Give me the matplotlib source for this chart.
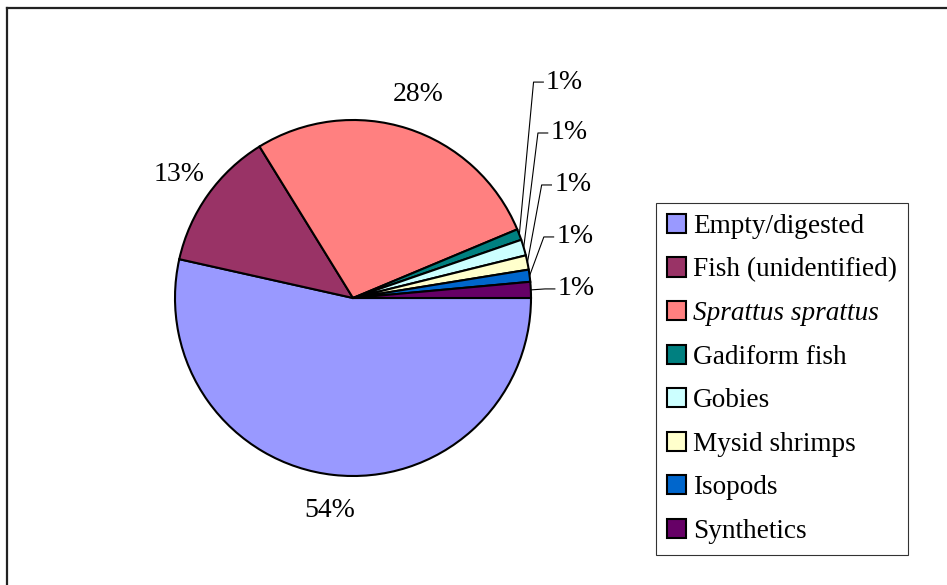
import matplotlib.pyplot as plt
import numpy as np

categories = ["Empty/digested", "Fish (unidentified)", "Sprattus sprattus", "Gadiform fish",
              "Gobies", "Mysid shrimps", "Isopods", "Synthetics"]
shares = [53.5, 12.7, 27.5, 1.0, 1.45, 1.3, 1.1, 1.45]
colors = ["#9999FF", "#993366", "#FF8080", "#008080", "#CCFFFF", "#FFFFCC", "#0066CC", "#660066"]

plt.rcParams['font.family'] = ['Liberation Serif', 'DejaVu Serif']

W, H = 947, 585
cx, cy, R = 353, 298, 178  # pie centre / radius in pixels

fig = plt.figure(figsize=(W / 100, H / 100), dpi=100)
ax = fig.add_axes([0, 0, 1, 1])

wedges, _ = ax.pie(shares, colors=colors, startangle=0, counterclock=False,
                   wedgeprops=dict(edgecolor='black', linewidth=1.5))
ax.set_xlim(-cx / R, (W - cx) / R)
ax.set_ylim(-(H - cy) / R, cy / R)
ax.set_aspect('auto')
ax.axis('off')

total = sum(shares)
fs = 20

# big slices: label outside the pie
for i in range(3):
    w = wedges[i]
    mid = np.deg2rad((w.theta1 + w.theta2) / 2)
    r = 1.2
    ax.text(r * np.cos(mid), r * np.sin(mid), f"{shares[i] / total * 100:.0f}%",
            ha='center', va='center', fontsize=fs)

# small slices: stacked labels with leader lines
label_y = [1.213, 0.927, 0.635, 0.343, 0.051]
for k, i in enumerate(range(3, 8)):
    w = wedges[i]
    mid = np.deg2rad((w.theta1 + w.theta2) / 2)
    ex, ey = np.cos(mid), np.sin(mid)
    ly = label_y[k]
    elbow = ex + 0.08
    ax.plot([ex, elbow, elbow + 0.055], [ey, ly, ly], color='black', lw=0.8)
    ax.text(elbow + 0.07, ly, f"{shares[i] / total * 100:.0f}%",
            ha='left', va='center', fontsize=fs)

leg = fig.legend(wedges, categories, loc='upper left',
                 bbox_to_anchor=(656 / W, 1 - 203 / H), fontsize=19.6,
                 frameon=True, fancybox=False, shadow=False, borderaxespad=0,
                 handlelength=0.7, handleheight=0.7, handletextpad=0.25,
                 labelspacing=0.68, borderpad=0.4)
leg.get_frame().set_edgecolor('black')
leg.get_frame().set_linewidth(0.8)
for t in leg.get_texts():
    if t.get_text() == "Sprattus sprattus":
        t.set_style('italic')
for p in leg.get_patches():
    p.set_edgecolor('black')
    p.set_linewidth(1.5)

# outer chart frame (only top and left are visible)
fig.add_artist(plt.Line2D([7 / W, 1], [1 - 8 / H, 1 - 8 / H], color='#222222', lw=1.6))
fig.add_artist(plt.Line2D([7 / W, 7 / W], [0, 1 - 8 / H], color='#222222', lw=1.6))

fig.savefig("out.png", dpi=100)
